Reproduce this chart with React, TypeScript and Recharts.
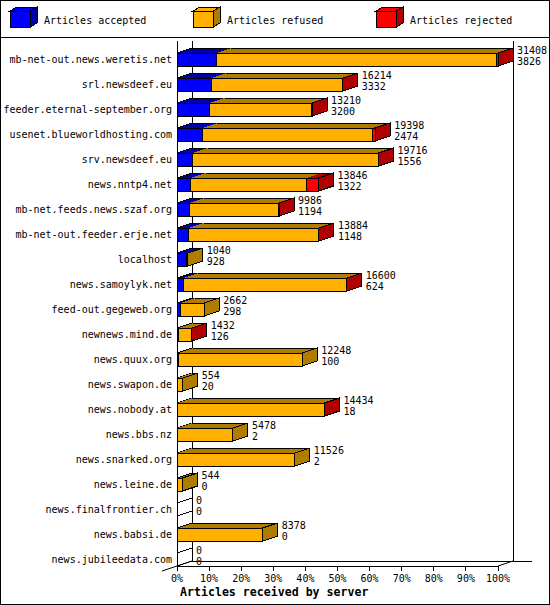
import React from "react";
import { BarChart, Bar, XAxis, YAxis, LabelList } from "recharts";

const servers = [
  "mb-net-out.news.weretis.net",
  "srl.newsdeef.eu",
  "feeder.eternal-september.org",
  "usenet.blueworldhosting.com",
  "srv.newsdeef.eu",
  "news.nntp4.net",
  "mb-net.feeds.news.szaf.org",
  "mb-net-out.feeder.erje.net",
  "localhost",
  "news.samoylyk.net",
  "feed-out.gegeweb.org",
  "newnews.mind.de",
  "news.quux.org",
  "news.swapon.de",
  "news.nobody.at",
  "news.bbs.nz",
  "news.snarked.org",
  "news.leine.de",
  "news.finalfrontier.ch",
  "news.babsi.de",
  "news.jubileedata.com",
];
const totals = [31408, 16214, 13210, 19398, 19716, 13846, 9986, 13884, 1040, 16600, 2662, 1432, 12248, 554, 14434, 5478, 11526, 544, 0, 8378, 0];
const accepted = [3826, 3332, 3200, 2474, 1556, 1322, 1194, 1148, 928, 624, 298, 126, 100, 20, 18, 2, 2, 0, 0, 0, 0];
const refused = [27482, 12842, 9980, 16624, 18140, 11324, 8772, 12716, 112, 15946, 2364, 1286, 12148, 534, 14396, 5476, 11524, 544, 0, 8378, 0];
const rejected = [100, 40, 30, 300, 20, 1200, 20, 20, 0, 30, 0, 20, 0, 0, 20, 0, 0, 0, 0, 0, 0];
const seriesNames = ["Articles accepted", "Articles refused", "Articles rejected"];
const tickPercents = [0, 10, 20, 30, 40, 50, 60, 70, 80, 90, 100];

const MAX = Math.max(...totals);
const data = servers.map((name, i) => ({
  name,
  total: totals[i],
  accepted: accepted[i],
  refused: refused[i],
  rejected: rejected[i],
}));

const SERIES = [
  { key: "accepted", color: "#0000ff", dark: "#0000a8" },
  { key: "refused", color: "#ffb000", dark: "#b07c00" },
  { key: "rejected", color: "#ff0000", dark: "#b00000" },
];

const FONT = '"DejaVu Sans Mono", monospace';
const W = 550;
const H = 605;
const LEFT = 177;
const RIGHT = 498;
const TOP = 47;
const ROW = 25;
const BAR = 13;
const DX = 15;
const DY = 5;
const FLOOR = TOP + ROW * (servers.length - 1) + (ROW - BAR) / 2 + BAR;
const WALL_TOP = 41;

function makeShape(idx: number) {
  return (props: any) => {
    const { x, y, width, height, payload } = props;
    if (!(width > 0)) return null;
    const vals = SERIES.map((s) => payload[s.key] as number);
    const isLast = vals.slice(idx + 1).every((v) => v === 0);
    const isFirst = vals.slice(0, idx).every((v) => v === 0);
    const s = SERIES[idx];
    const x2 = x + width;
    const y2 = y + height;
    return (
      <g shapeRendering="crispEdges">
        <polygon
          points={`${x},${y} ${x + DX},${y - DY} ${x2 + DX},${y - DY} ${x2},${y}`}
          fill={s.dark}
          stroke="none"
        />
        <line x1={x + DX} y1={y - DY} x2={x2 + DX} y2={y - DY} stroke="#000" />
        {isFirst && <line x1={x} y1={y} x2={x + DX} y2={y - DY} stroke="#000" />}
        <rect x={x} y={y} width={width} height={height} fill={s.color} stroke="#000" />
        {isLast && (
          <polygon
            points={`${x2},${y} ${x2 + DX},${y - DY} ${x2 + DX},${y2 - DY} ${x2},${y2}`}
            fill={s.dark}
            stroke="#000"
          />
        )}
      </g>
    );
  };
}

const renderValueLabel = (props: any) => {
  const vb = props.viewBox || props;
  const x = Number(vb.x);
  const y = Number(vb.y);
  const width = Number(vb.width) || 0;
  const height = Number(vb.height) || BAR;
  const i = props.index;
  const end = x + width;
  const cy = y + height / 2;
  const zero = totals[i] === 0;
  return (
    <g>
      {zero && (
        <polygon
          points={`${end},${y} ${end + DX},${y - DY} ${end + DX},${y + height - DY} ${end},${y + height}`}
          fill="none"
          stroke="#000"
          shapeRendering="crispEdges"
        />
      )}
      <text x={end + DX + 4} y={cy - 9} dominantBaseline="central" fontFamily={FONT} fontSize={10} fill="#000">
        {totals[i]}
      </text>
      <text x={end + DX + 4} y={cy + 2} dominantBaseline="central" fontFamily={FONT} fontSize={10} fill="#000">
        {accepted[i]}
      </text>
    </g>
  );
};

const XTick = (props: any) => {
  const { x, y, payload } = props;
  const pct = Math.round((payload.value / MAX) * 100);
  return (
    <g>
      <line x1={x} y1={FLOOR} x2={x} y2={FLOOR + 5} stroke="#000" shapeRendering="crispEdges" />
      <text x={x} y={y} textAnchor="middle" dominantBaseline="central" fontFamily={FONT} fontSize={10} fill="#000">
        {`${pct}%`}
      </text>
    </g>
  );
};

function Frame() {
  const legendX = [10, 193, 376];
  return (
    <svg width={W} height={H} style={{ position: "absolute", left: 0, top: 0 }}>
      <rect x={0.5} y={0.5} width={W - 1} height={H - 1} fill="#fff" stroke="#000" />
      <line x1={0} y1={37.5} x2={W} y2={37.5} stroke="#000" />
      {seriesNames.map((name, i) => {
        const lx = legendX[i];
        const s = SERIES[i];
        return (
          <g key={name} shapeRendering="crispEdges">
            <polygon points={`${lx},11 ${lx + 7},7 ${lx + 27},7 ${lx + 20},11`} fill={s.color} stroke="#000" />
            <polygon points={`${lx + 20},11 ${lx + 27},7 ${lx + 27},23 ${lx + 20},27`} fill={s.dark} stroke="#000" />
            <rect x={lx} y={11} width={20} height={16} fill={s.color} stroke="#000" />
            <text x={lx + 34} y={20} dominantBaseline="central" fontFamily={FONT} fontSize={10} fill="#000">
              {name}
            </text>
          </g>
        );
      })}
      <g stroke="#000" shapeRendering="crispEdges">
        <line x1={LEFT} y1={WALL_TOP} x2={LEFT} y2={FLOOR} />
        <line x1={LEFT + DX} y1={WALL_TOP} x2={LEFT + DX} y2={FLOOR - DY} />
        <line x1={RIGHT + DX} y1={WALL_TOP} x2={RIGHT + DX} y2={FLOOR - DY} />
        <line x1={LEFT} y1={FLOOR} x2={RIGHT} y2={FLOOR} />
        <line x1={LEFT + DX} y1={FLOOR - DY} x2={RIGHT + DX + 19} y2={FLOOR - DY} />
      </g>
      <line x1={LEFT - DX} y1={FLOOR + DY} x2={LEFT + DX} y2={FLOOR - DY} stroke="#000" />
      <line x1={RIGHT} y1={FLOOR} x2={RIGHT + DX} y2={FLOOR - DY} stroke="#000" />
      <text x={180} y={592} dominantBaseline="central" fontFamily={FONT} fontSize={11.6} fontWeight="bold" fill="#000">
        Articles received by server
      </text>
    </svg>
  );
}

export default function App() {
  return (
    <div style={{ position: "relative", width: W, height: H }}>
      <style>{`body{margin:0}`}</style>
      <Frame />
      <div style={{ position: "absolute", left: 0, top: 0 }}>
        <BarChart
          width={W}
          height={H}
          data={data}
          layout="vertical"
          margin={{ top: TOP, right: W - RIGHT, bottom: 0, left: 8 }}
          barSize={BAR}
        >
          <XAxis
            type="number"
            domain={[0, MAX]}
            ticks={tickPercents.map((p) => (MAX * p) / 100)}
            height={H - ROW * servers.length - TOP}
            axisLine={false}
            tickLine={false}
            tickSize={0}
            tickMargin={6}
            tick={<XTick />}
            interval={0}
          />
          <YAxis
            type="category"
            dataKey="name"
            width={LEFT - 8}
            axisLine={false}
            tickLine={false}
            tickSize={0}
            tickMargin={5}
            interval={0}
            tick={{ fill: "#000", fontSize: 10, fontFamily: FONT }}
          />
          {SERIES.map((s, i) => (
            <Bar
              key={s.key}
              dataKey={s.key}
              stackId="a"
              fill={s.color}
              shape={makeShape(i)}
              isAnimationActive={false}
            >
              {i === SERIES.length - 1 && <LabelList dataKey="total" content={renderValueLabel} />}
            </Bar>
          ))}
        </BarChart>
      </div>
    </div>
  );
}
